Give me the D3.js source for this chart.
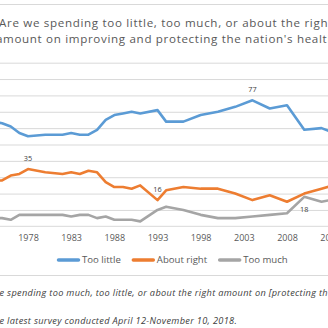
<!DOCTYPE html>
<html>
<head>
<meta charset="utf-8">
<script src="https://cdn.jsdelivr.net/npm/d3@7"></script>
<style>
  html, body { margin: 0; padding: 0; background: #fff; overflow: hidden; }
  svg { display: block; font-family: "Open Sans", "Liberation Sans", Arial, sans-serif; }
</style>
</head>
<body>
<div id="chart"></div>
<script>
// Spending on the nation's health, GSS 1973-2018 (percent)
const years = [1973, 1974, 1975, 1976, 1977, 1978, 1980, 1982, 1983, 1984, 1985, 1986, 1987, 1988, 1989, 1990, 1991, 1993, 1994, 1996, 1998, 2000, 2002, 2004, 2006, 2008, 2010, 2012, 2014, 2016, 2018];
const tooLittle  = [61, 64, 63, 61, 57, 55, 56, 56, 57, 56, 56, 59, 65, 68, 69, 70, 69, 71, 64, 64, 68, 70, 73, 77, 72, 74, 59, 60, 56, 62, 63];
const aboutRight = [30, 28, 28, 31, 32, 35, 33, 32, 33, 32, 34, 33, 27, 24, 24, 23, 25, 16, 22, 24, 23, 23, 20, 16, 19, 15, 20, 23, 26, 24, 24];
const tooMuch    = [5, 5, 5, 4, 7, 7, 7, 7, 6, 7, 7, 5, 6, 4, 4, 4, 3, 10, 12, 10, 7, 5, 5, 6, 7, 8, 18, 15, 17, 11, 11];

const seriesNames = ['Too little', 'About right', 'Too much'];
const seriesColors = ['#5b9bd5', '#ed7d31', '#a5a5a5'];
const tickYears = [1973, 1978, 1983, 1988, 1993, 1998, 2003, 2008, 2013, 2018];

// point labels: series index, year, placement
const pointLabels = [
  { s: 0, year: 2004, pos: 'above' },
  { s: 1, year: 1978, pos: 'above' },
  { s: 1, year: 1993, pos: 'above' },
  { s: 2, year: 2010, pos: 'below' }
];

const titleLines = [
  "Are we spending too little, too much, or about the right",
  "amount on improving and protecting the nation's health?"
];
const notes = [
  { prefix: 'Question: Are w', text: "Question: Are we spending too much, too little, or about the right amount on [protecting the nation's health]?" },
  { prefix: 'Note: Th', text: 'Note: The latest survey conducted April 12-November 10, 2018.' }
];

const width = 328, height = 328;
const values = [tooLittle, aboutRight, tooMuch];

const svg = d3.select('#chart').append('svg')
  .attr('width', width)
  .attr('height', height);

svg.append('rect').attr('width', width).attr('height', height).attr('fill', '#fff');

// width of a string at a given font, no letter spacing
function measure(str, size, style) {
  const t = svg.append('text')
    .attr('font-size', size)
    .attr('font-style', style || 'normal')
    .attr('x', -999).attr('y', -999)
    .text(str);
  const w = t.node().getComputedTextLength();
  t.remove();
  return w;
}

// chart frame (wider than the window, sides fall outside)
svg.append('line').attr('x1', -50).attr('x2', width + 50).attr('y1', 4.5).attr('y2', 4.5)
  .attr('stroke', '#d9d9d9');
svg.append('line').attr('x1', -50).attr('x2', width + 50).attr('y1', 275.5).attr('y2', 275.5)
  .attr('stroke', '#d9d9d9');

// title, first line spans about 334px
const titleSize = 11.6;
const titleLS = (334 - measure(titleLines[0], titleSize)) / titleLines[0].length;
const title = svg.append('g')
  .attr('fill', '#595959')
  .attr('font-size', titleSize)
  .attr('letter-spacing', titleLS);
title.append('text').attr('x', -1).attr('y', 27).text(titleLines[0]);
title.append('text')
  .attr('x', 3 - measure('a', titleSize) - titleLS)
  .attr('y', 43.3)
  .text(titleLines[1]);

const x = d3.scaleLinear()
  .domain([1978, 2008])
  .range([28, 287]);
const y = d3.scaleLinear()
  .domain([0, 100])
  .range([226.3, 62.7]);

const xLeft = x(1971), xRight = x(2020);

// horizontal gridlines
svg.append('g')
  .attr('transform', `translate(${xLeft},0)`)
  .call(d3.axisLeft(y).tickValues(d3.range(10, 101, 10)).tickSize(-(xRight - xLeft)).tickFormat(''))
  .call(g => g.select('.domain').remove())
  .call(g => g.selectAll('.tick line').attr('stroke', '#d9d9d9'));

// x axis
svg.append('g')
  .attr('transform', `translate(0,${y(0)})`)
  .call(d3.axisBottom(x).tickValues(tickYears).tickSize(0).tickPadding(8).tickFormat(d3.format('d')))
  .call(g => g.select('.domain').attr('d', `M${xLeft},0H${xRight}`).attr('stroke', '#d9d9d9'))
  .call(g => g.selectAll('.tick text')
    .attr('fill', '#595959')
    .attr('font-size', 9)
    .attr('font-family', '"Open Sans", "Liberation Sans", Arial, sans-serif'));

// series lines
const line = d3.line()
  .x((d, i) => x(years[i]))
  .y(d => y(d));

values.forEach((vals, s) => {
  svg.append('path')
    .datum(vals)
    .attr('d', line)
    .attr('fill', 'none')
    .attr('stroke', seriesColors[s])
    .attr('stroke-width', 2.6)
    .attr('stroke-linejoin', 'round')
    .attr('stroke-linecap', 'round');
});

// value labels
svg.append('g')
  .selectAll('text')
  .data(pointLabels)
  .join('text')
  .attr('x', d => x(d.year))
  .attr('y', d => {
    const v = values[d.s][years.indexOf(d.year)];
    return d.pos === 'above' ? y(v) - 8.5 : y(v) + 15.5;
  })
  .attr('text-anchor', 'middle')
  .attr('font-size', 7.3)
  .attr('fill', '#404040')
  .text(d => values[d.s][years.indexOf(d.year)]);

// legend
const legend = svg.append('g').attr('transform', 'translate(0,260)');
let lx = 57;
seriesNames.forEach((name, s) => {
  legend.append('line')
    .attr('x1', lx + 1.5).attr('x2', lx + 21.5)
    .attr('y1', 0).attr('y2', 0)
    .attr('stroke', seriesColors[s])
    .attr('stroke-width', 3.5)
    .attr('stroke-linecap', 'round');
  const t = legend.append('text')
    .attr('x', lx + 25)
    .attr('y', 3.4)
    .attr('font-size', 9.6)
    .attr('fill', '#595959')
    .text(name);
  lx += 25 + t.node().getComputedTextLength() + 11;
});

// footnotes, same spacing on both lines
const footSize = 9.2;
const footSeen = notes[0].text.slice(notes[0].prefix.length, notes[0].text.indexOf('[protecting th') + 14);
const footLS = (328.5 - measure(footSeen, footSize, 'italic')) / footSeen.length;
const foot = svg.append('g')
  .attr('fill', '#404040')
  .attr('font-size', footSize)
  .attr('font-style', 'italic')
  .attr('letter-spacing', footLS);
[296, 324].forEach((yy, i) => {
  const pre = notes[i].prefix;
  foot.append('text')
    .attr('y', yy)
    .attr('x', -(measure(pre, footSize, 'italic') + pre.length * footLS) - 0.5)
    .text(notes[i].text);
});
</script>
</body>
</html>
